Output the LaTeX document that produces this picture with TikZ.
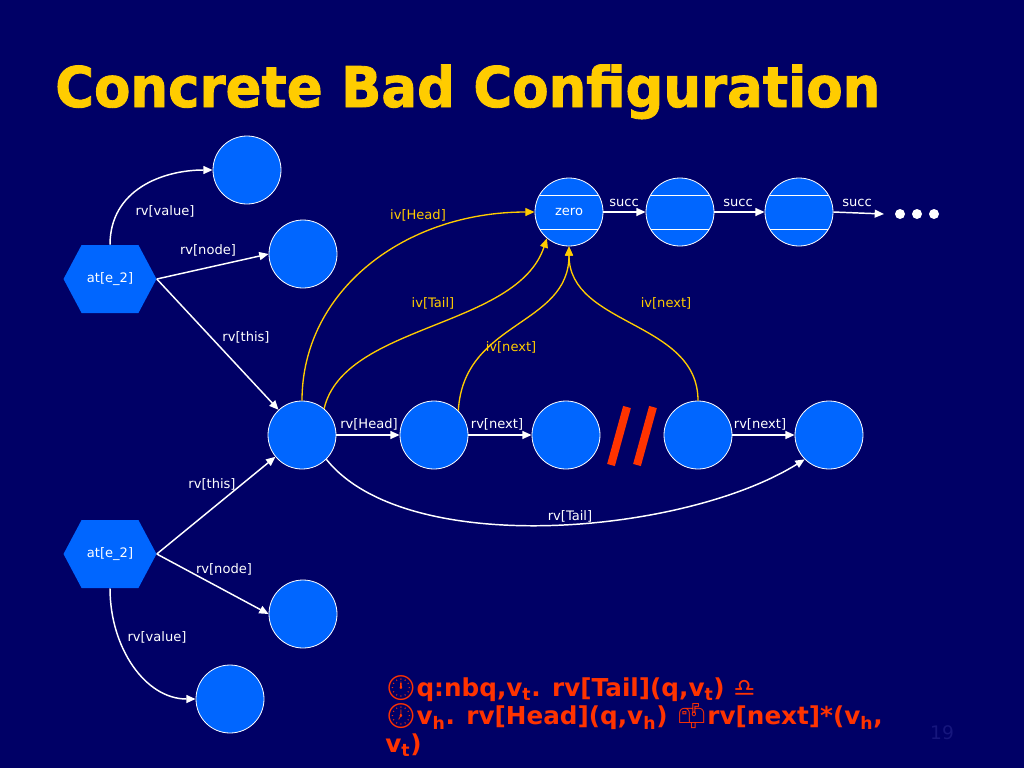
\documentclass[tikz,border=0pt]{standalone}
\usepackage{fontspec}
\setmainfont{DejaVu Sans}
\newfontfamily\emojifont{Noto Emoji}
\newfontfamily\titlefont[FakeBold=1.6]{DejaVu Sans Bold}
\usetikzlibrary{shapes.symbols,arrows.meta}
\definecolor{bgnavy}{HTML}{000066}
\definecolor{cellblue}{HTML}{0066FF}
\definecolor{goldline}{HTML}{FFCC00}
\definecolor{redtext}{HTML}{FF3300}
\definecolor{pagegrey}{RGB}{22,22,125}
\newcommand{\sub}[1]{\textsubscript{#1}}

\begin{document}
\begin{tikzpicture}[x=0.75pt,y=-0.75pt,
  every node/.style={font=\fontsize{9.8}{11}\selectfont},
  cell/.style={circle,draw=white,line width=0.6pt,fill=cellblue,minimum size=51pt,inner sep=0pt},
  listcell/.style={cell,path picture={
    \draw[white,line width=0.6pt] ([yshift=12.75pt]path picture bounding box.west) -- ++(68,0);
    \draw[white,line width=0.6pt] ([yshift=-12.75pt]path picture bounding box.west) -- ++(68,0);}},
  hexa/.style={shape=signal,signal to=east and west,signal pointer angle=124,fill=cellblue,
    text=white,minimum width=69.75pt,minimum height=51pt,inner sep=0pt},
  rv/.style={white,line width=1.1pt,-{Triangle[length=7pt,width=6pt]}},
  iv/.style={goldline,line width=1pt,-{Triangle[length=7pt,width=6pt]}},
  lbl/.style={text=white,inner sep=1pt},
  ivlbl/.style={text=goldline,inner sep=1pt}]
\fill[bgnavy] (0,0) rectangle (1024,768);
\useasboundingbox (0,0) rectangle (1024,768);

\node[anchor=base west,text=goldline,font=\fontsize{42}{50}\titlefont,xscale=0.945,inner sep=0pt] (title) at (55,107) {Concrete Bad Configuration};

\node[hexa] (at1) at (110,279) {at[e\_2]};
\node[hexa] (at2) at (110,554) {at[e\_2]};
\node[cell] (val1) at (247,170) {};
\node[cell] (nd1) at (303,254) {};
\node[cell] (nd2) at (303,614) {};
\node[cell] (val2) at (230,699) {};
\node[cell] (q) at (302,435) {};
\node[cell] (v1) at (434,435) {};
\node[cell] (v2) at (566,435) {};
\node[cell] (v3) at (698,435) {};
\node[cell] (vt) at (829,435) {};
\node[listcell,text=white] (zero) at (569,212) {zero};
\node[listcell] (s1) at (680,212) {};
\node[listcell] (s2) at (799,212) {};
\coordinate (more) at (884,214);
\fill[white] (900,214) circle (3.75pt) (917,214) circle (3.75pt) (934,214) circle (3.75pt);

\draw[rv] (at1.north) .. controls +(0,-55) and +(-50,0) .. (val1.west);
\draw[rv] (at1.east) -- (nd1.west);
\draw[rv] (at1.east) -- (q);
\draw[rv] (at2.east) -- (q);
\draw[rv] (at2.east) -- (nd2.west);
\draw[rv] (at2.south) .. controls +(0,60) and +(-50,0) .. (val2.west);
\draw[rv] (q.east) -- (v1.west);
\draw[rv] (v1.east) -- (v2.west);
\draw[rv] (v3.east) -- (vt.west);
\draw[rv] (q.-45) .. controls +(80,100) and +(-120,75) .. (vt.-135);
\draw[rv] (zero.east) -- (s1.west);
\draw[rv] (s1.east) -- (s2.west);
\draw[rv] (s2.east) -- (more);

\draw[iv] (q.north) .. controls +(0,-110) and +(-130,0) .. (zero.west);
\draw[iv] (q.50) .. controls +(20,-85) and +(-30,90) .. (zero.-130);
\draw[iv] (v1.45) .. controls +(5,-90) and +(0,80) .. (zero.south);
\draw[iv] (v3.north) .. controls +(0,-80) and +(0,80) .. (zero.south);

\draw[redtext,line width=6pt] (627,407) -- (611,465);
\draw[redtext,line width=6pt] (653,407) -- (637,465);

\node[lbl] (lvalA) at (165,211) {rv[value]};
\node[lbl] (lnodeA) at (208,250) {rv[node]};
\node[lbl] (lthisA) at (246,337) {rv[this]};
\node[lbl] (lthisB) at (212,484) {rv[this]};
\node[lbl] (lnodeB) at (224,569) {rv[node]};
\node[lbl] (lvalB) at (157,637) {rv[value]};
\node[lbl] (lhead) at (369,424) {rv[Head]};
\node[lbl] (lnextA) at (497,424) {rv[next]};
\node[lbl] (lnextB) at (760,424) {rv[next]};
\node[lbl] (ltail) at (570,516) {rv[Tail]};
\node[lbl] (lsuccA) at (624,203) {succ};
\node[lbl] (lsuccB) at (738,203) {succ};
\node[lbl] (lsuccC) at (857,203) {succ};
\node[ivlbl] (ihead) at (418,215) {iv[Head]};
\node[ivlbl] (itail) at (433,303) {iv[Tail]};
\node[ivlbl] (inextA) at (511,347) {iv[next]};
\node[ivlbl] (inextB) at (666,303) {iv[next]};

\node[anchor=north west,align=left,text=redtext,font=\fontsize{18.5}{21}\bfseries\selectfont,inner sep=0pt] (formula) at (385,675)
  {{\emojifont 🕛}q:nbq,v\sub{t}. rv[Tail](q,v\sub{t}) {\mdseries ♎}\\
   {\emojifont 🕖}v\sub{h}. rv[Head](q,v\sub{h}) {\emojifont 📫}rv[next]*(v\sub{h},\\
   v\sub{t})};
\node[text=pagegrey,font=\fontsize{14}{16}\selectfont] (page) at (942,733) {19};
\end{tikzpicture}
\end{document}
